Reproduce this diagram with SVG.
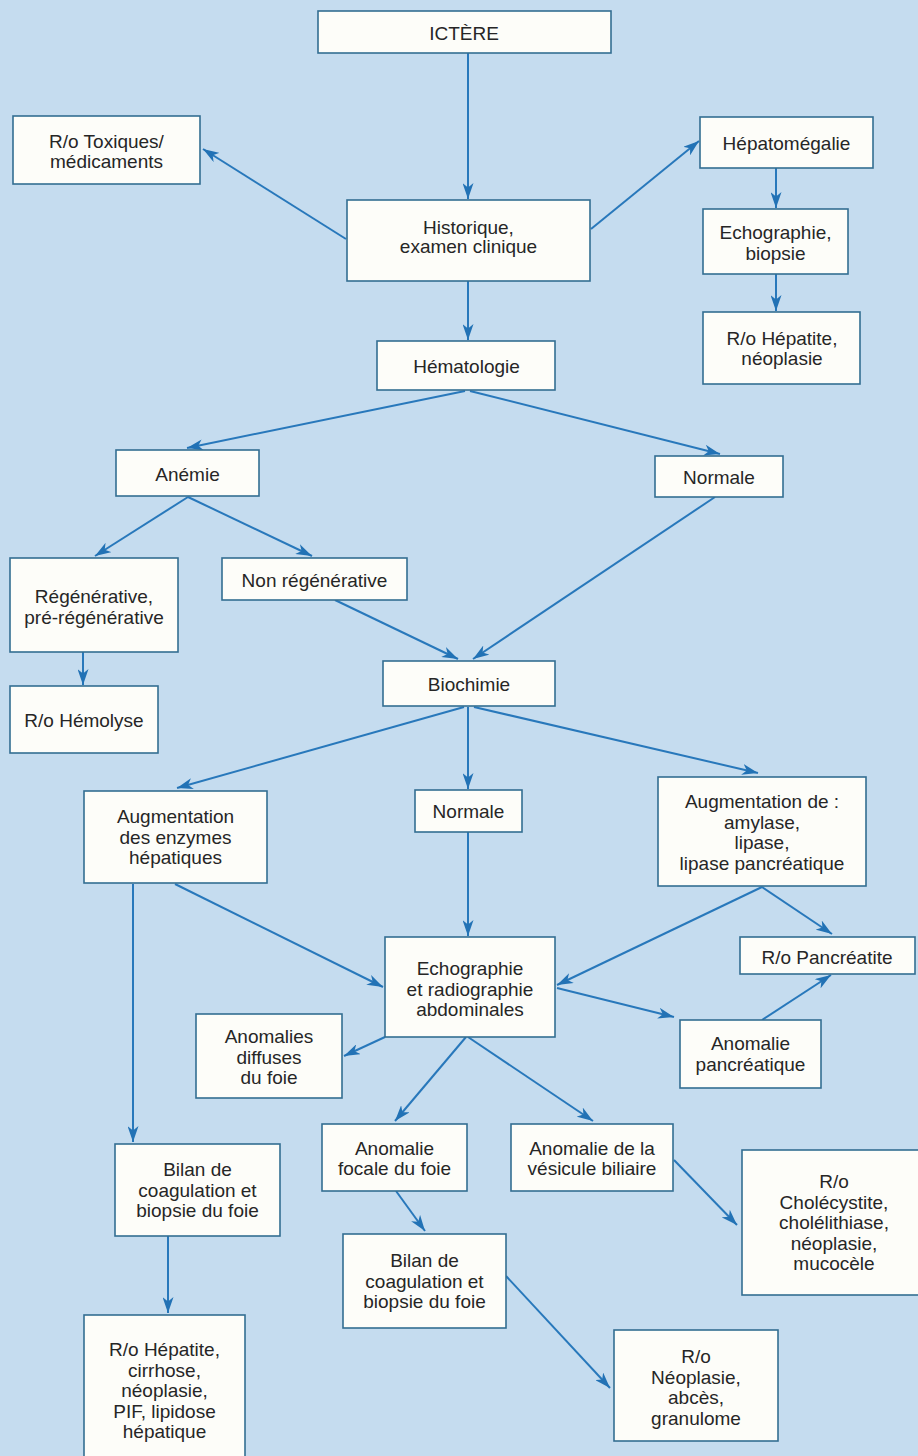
<svg xmlns="http://www.w3.org/2000/svg" width="918" height="1456" viewBox="0 0 918 1456">
<style>
.bg{fill:#c5dcef}
.box{fill:#fdfdf9;stroke:#336e92;stroke-width:1.6}
.t{font-family:"Liberation Sans",Arial,Helvetica,sans-serif;font-size:19px;fill:#262626;text-anchor:middle}
.c{fill:none;stroke:#2878bb;stroke-width:2}
</style>
<defs>
<marker id="ah" viewBox="0 0 16 11" refX="16" refY="5.5" markerWidth="16" markerHeight="11" markerUnits="userSpaceOnUse" orient="auto">
<path d="M0,0 L16,5.5 L0,11 L4.5,5.5 z" fill="#2272b5"/>
</marker>
</defs>
<rect class="bg" x="0" y="0" width="918" height="1456"/>
<g id="connectors">
<line class="c" marker-end="url(#ah)" x1="468" y1="53" x2="468" y2="199"/>
<line class="c" marker-end="url(#ah)" x1="346" y1="239" x2="203" y2="149"/>
<line class="c" marker-end="url(#ah)" x1="591" y1="229" x2="699" y2="141"/>
<line class="c" marker-end="url(#ah)" x1="776" y1="168" x2="776" y2="208"/>
<line class="c" marker-end="url(#ah)" x1="776" y1="274" x2="776" y2="311"/>
<line class="c" marker-end="url(#ah)" x1="468" y1="281" x2="468" y2="340"/>
<line class="c" marker-end="url(#ah)" x1="465" y1="391" x2="187" y2="448"/>
<line class="c" marker-end="url(#ah)" x1="470" y1="391" x2="720" y2="454"/>
<line class="c" marker-end="url(#ah)" x1="188" y1="497" x2="95" y2="556"/>
<line class="c" marker-end="url(#ah)" x1="188" y1="497" x2="312" y2="556"/>
<line class="c" marker-end="url(#ah)" x1="83" y1="652" x2="83" y2="685"/>
<line class="c" marker-end="url(#ah)" x1="335" y1="600" x2="458" y2="659"/>
<line class="c" marker-end="url(#ah)" x1="715" y1="497" x2="473" y2="659"/>
<line class="c" marker-end="url(#ah)" x1="464" y1="707" x2="177" y2="788"/>
<line class="c" marker-end="url(#ah)" x1="468" y1="707" x2="468" y2="789"/>
<line class="c" marker-end="url(#ah)" x1="474" y1="707" x2="758" y2="773"/>
<line class="c" marker-end="url(#ah)" x1="468" y1="832" x2="468" y2="936"/>
<line class="c" marker-end="url(#ah)" x1="175" y1="884" x2="383" y2="987"/>
<line class="c" marker-end="url(#ah)" x1="133" y1="884" x2="133" y2="1142"/>
<line class="c" marker-end="url(#ah)" x1="762" y1="887" x2="557" y2="985"/>
<line class="c" marker-end="url(#ah)" x1="762" y1="887" x2="832" y2="934"/>
<line class="c" marker-end="url(#ah)" x1="557" y1="988" x2="674" y2="1017"/>
<line class="c" marker-end="url(#ah)" x1="762" y1="1020" x2="831" y2="975"/>
<line class="c" marker-end="url(#ah)" x1="385" y1="1037" x2="344" y2="1056"/>
<line class="c" marker-end="url(#ah)" x1="466" y1="1037" x2="395" y2="1121"/>
<line class="c" marker-end="url(#ah)" x1="468" y1="1037" x2="593" y2="1121"/>
<line class="c" marker-end="url(#ah)" x1="396" y1="1191" x2="425" y2="1231"/>
<line class="c" marker-end="url(#ah)" x1="674" y1="1160" x2="737" y2="1225"/>
<line class="c" marker-end="url(#ah)" x1="506" y1="1276" x2="610" y2="1388"/>
<line class="c" marker-end="url(#ah)" x1="168" y1="1236" x2="168" y2="1313"/>
</g>
<g id="ictere"><rect class="box" x="318" y="11" width="293" height="42"/><text class="t" x="464" y="39.5">ICTÈRE</text></g>
<g id="toxiques"><rect class="box" x="13" y="116" width="187" height="68"/><text class="t"><tspan x="106.5" y="148">R/o Toxiques/</tspan><tspan x="106.5" y="168">médicaments</tspan></text></g>
<g id="historique"><rect class="box" x="347" y="200" width="243" height="81"/><text class="t"><tspan x="468.5" y="234">Historique,</tspan><tspan x="468.5" y="253">examen clinique</tspan></text></g>
<g id="hepatomegalie"><rect class="box" x="700" y="117" width="173" height="51"/><text class="t" x="786.5" y="150">Hépatomégalie</text></g>
<g id="echographie-biopsie"><rect class="box" x="703" y="209" width="145" height="65"/><text class="t"><tspan x="775.5" y="239">Echographie,</tspan><tspan x="775.5" y="259.5">biopsie</tspan></text></g>
<g id="ro-hepatite-neoplasie"><rect class="box" x="703" y="312" width="157" height="72"/><text class="t"><tspan x="782" y="345">R/o Hépatite,</tspan><tspan x="782" y="365">néoplasie</tspan></text></g>
<g id="hematologie"><rect class="box" x="377" y="341" width="178" height="49"/><text class="t" x="466.5" y="373">Hématologie</text></g>
<g id="anemie"><rect class="box" x="116" y="450" width="143" height="46"/><text class="t" x="187.5" y="480.5">Anémie</text></g>
<g id="normale-hemato"><rect class="box" x="655" y="456" width="128" height="41"/><text class="t" x="719" y="483.5">Normale</text></g>
<g id="regenerative"><rect class="box" x="10" y="558" width="168" height="94"/><text class="t"><tspan x="94" y="603">Régénérative,</tspan><tspan x="94" y="623.5">pré-régénérative</tspan></text></g>
<g id="non-regenerative"><rect class="box" x="222" y="558" width="185" height="42"/><text class="t" x="314.5" y="587">Non régénérative</text></g>
<g id="hemolyse"><rect class="box" x="10" y="686" width="148" height="67"/><text class="t" x="84" y="727">R/o Hémolyse</text></g>
<g id="biochimie"><rect class="box" x="383" y="661" width="172" height="45"/><text class="t" x="469" y="691">Biochimie</text></g>
<g id="augmentation-enzymes"><rect class="box" x="84" y="791" width="183" height="92"/><text class="t"><tspan x="175.5" y="823">Augmentation</tspan><tspan x="175.5" y="843.5">des enzymes</tspan><tspan x="175.5" y="864">hépatiques</tspan></text></g>
<g id="normale-biochimie"><rect class="box" x="415" y="790" width="107" height="42"/><text class="t" x="468.5" y="818">Normale</text></g>
<g id="augmentation-amylase"><rect class="box" x="658" y="777" width="208" height="109"/><text class="t"><tspan x="762" y="808">Augmentation de :</tspan><tspan x="762" y="828.5">amylase,</tspan><tspan x="762" y="849">lipase,</tspan><tspan x="762" y="869.5">lipase pancréatique</tspan></text></g>
<g id="echographie-radiographie"><rect class="box" x="385" y="937" width="170" height="100"/><text class="t"><tspan x="470" y="975">Echographie</tspan><tspan x="470" y="995.5">et radiographie</tspan><tspan x="470" y="1016">abdominales</tspan></text></g>
<g id="ro-pancreatite"><rect class="box" x="740" y="937" width="175" height="37"/><text class="t" x="827" y="964">R/o Pancréatite</text></g>
<g id="anomalie-pancreatique"><rect class="box" x="680" y="1020" width="141" height="68"/><text class="t"><tspan x="750.5" y="1050">Anomalie</tspan><tspan x="750.5" y="1070.5">pancréatique</tspan></text></g>
<g id="anomalies-diffuses"><rect class="box" x="196" y="1014" width="146" height="84"/><text class="t"><tspan x="269" y="1043">Anomalies</tspan><tspan x="269" y="1063.5">diffuses</tspan><tspan x="269" y="1084">du foie</tspan></text></g>
<g id="bilan-coagulation-1"><rect class="box" x="115" y="1144" width="165" height="92"/><text class="t"><tspan x="197.5" y="1176">Bilan de</tspan><tspan x="197.5" y="1196.5">coagulation et</tspan><tspan x="197.5" y="1217">biopsie du foie</tspan></text></g>
<g id="anomalie-focale"><rect class="box" x="322" y="1124" width="145" height="67"/><text class="t"><tspan x="394.5" y="1155">Anomalie</tspan><tspan x="394.5" y="1175">focale du foie</tspan></text></g>
<g id="anomalie-vesicule"><rect class="box" x="511" y="1124" width="162" height="67"/><text class="t"><tspan x="592" y="1155">Anomalie de la</tspan><tspan x="592" y="1175">vésicule biliaire</tspan></text></g>
<g id="ro-cholecystite"><rect class="box" x="742" y="1150" width="180" height="145"/><text class="t"><tspan x="834" y="1188">R/o</tspan><tspan x="834" y="1208.5">Cholécystite,</tspan><tspan x="834" y="1229">cholélithiase,</tspan><tspan x="834" y="1249.5">néoplasie,</tspan><tspan x="834" y="1270">mucocèle</tspan></text></g>
<g id="bilan-coagulation-2"><rect class="box" x="343" y="1234" width="163" height="94"/><text class="t"><tspan x="424.5" y="1267">Bilan de</tspan><tspan x="424.5" y="1287.5">coagulation et</tspan><tspan x="424.5" y="1308">biopsie du foie</tspan></text></g>
<g id="ro-neoplasie-abces"><rect class="box" x="614" y="1330" width="164" height="111"/><text class="t"><tspan x="696" y="1363">R/o</tspan><tspan x="696" y="1383.5">Néoplasie,</tspan><tspan x="696" y="1404">abcès,</tspan><tspan x="696" y="1424.5">granulome</tspan></text></g>
<g id="ro-hepatite-cirrhose"><rect class="box" x="84" y="1315" width="161" height="150"/><text class="t"><tspan x="164.5" y="1356">R/o Hépatite,</tspan><tspan x="164.5" y="1376.5">cirrhose,</tspan><tspan x="164.5" y="1397">néoplasie,</tspan><tspan x="164.5" y="1417.5">PIF, lipidose</tspan><tspan x="164.5" y="1438">hépatique</tspan></text></g>
</svg>
